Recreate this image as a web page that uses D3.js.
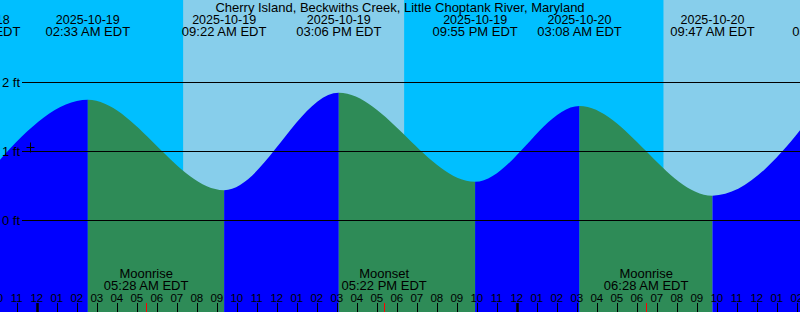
<!DOCTYPE html>
<html>
<head>
<meta charset="utf-8">
<script src="https://cdn.jsdelivr.net/npm/d3@7"></script>
<style>
  body { margin: 0; }
  svg { display: block; font-family: "Liberation Sans", Arial, sans-serif; }
</style>
</head>
<body>
<svg id="chart" width="800" height="312"></svg>
<script>
const title = "Cherry Island, Beckwiths Creek, Little Choptank River, Maryland";

// high / low tides (EDT wall time)
const tideTimes = ["2025-10-18T21:03", "2025-10-19T02:33", "2025-10-19T09:22", "2025-10-19T15:06",
                   "2025-10-19T21:55", "2025-10-20T03:08", "2025-10-20T09:47", "2025-10-20T15:54"];
const tideHeights = [0.51, 1.75, 0.44, 1.85, 0.56, 1.66, 0.36, 1.98];

// sun up intervals
const sunrises = ["2025-10-19T07:19", "2025-10-20T07:20"];
const sunsets = ["2025-10-19T18:22", "2025-10-20T18:21"];

// moon events
const moonTimes = ["2025-10-19T05:28", "2025-10-19T17:22", "2025-10-20T06:28"];
const moonEvents = ["Moonrise", "Moonset", "Moonrise"];

const heightTicks = [0, 1, 2];

// current time marker
const nowTime = "2025-10-18T23:40";
const nowHeight = 1.07;

const W = 800, H = 312;
const parse = d3.utcParse("%Y-%m-%dT%H:%M");
const fmtDate = d3.utcFormat("%Y-%m-%d");
const fmtTime = d3.utcFormat("%I:%M %p EDT");
const fmtHour = d3.utcFormat("%I");

const x = d3.scaleUtc()
    .domain([d3.utcParse("%Y-%m-%dT%H:%M:%S")("2025-10-18T22:09:36"),
             d3.utcParse("%Y-%m-%dT%H:%M:%S")("2025-10-20T14:09:36")])
    .range([0, W]);
const y = d3.scaleLinear().domain([0, 2]).range([220.5, 82.5]);

const svg = d3.select("#chart");

// night background
svg.append("rect").attr("width", W).attr("height", H).attr("fill", "#00bfff");

// daylight
svg.selectAll(".day")
    .data(sunrises.map((s, i) => [parse(s), parse(sunsets[i])]))
    .join("rect")
    .attr("class", "day")
    .attr("x", d => x(d[0]))
    .attr("width", d => x(d[1]) - x(d[0]))
    .attr("y", 0).attr("height", H)
    .attr("fill", "#87ceeb");

// tide curve
const tides = tideTimes.map((t, i) => ({ t: parse(t), h: tideHeights[i] }));
const area = d3.area()
    .x(d => x(d.t))
    .y0(H)
    .y1(d => y(d.h))
    .curve(d3.curveMonotoneX);

svg.append("clipPath").attr("id", "tideClip")
    .append("path").attr("d", area(tides));

// blue while rising, green while falling
svg.append("g").attr("clip-path", "url(#tideClip)")
    .selectAll("rect")
    .data(d3.pairs(tides))
    .join("rect")
    .attr("x", d => x(d[0].t))
    .attr("width", d => x(d[1].t) - x(d[0].t))
    .attr("y", 0).attr("height", H)
    .attr("fill", d => d[1].h > d[0].h ? "#0000ff" : "#2e8b57");

// height gridlines
svg.selectAll(".grid")
    .data(heightTicks)
    .join("line")
    .attr("x1", 22).attr("x2", W)
    .attr("y1", d => y(d)).attr("y2", d => y(d))
    .attr("stroke", "#000").attr("stroke-width", 1);

svg.selectAll(".ylab")
    .data(heightTicks)
    .join("text")
    .attr("x", 20).attr("y", d => y(d) + 4.5)
    .attr("text-anchor", "end")
    .attr("font-size", 13)
    .text(d => d + " ft");

// title
svg.append("text")
    .attr("x", W / 2).attr("y", 12)
    .attr("text-anchor", "middle")
    .attr("font-size", 13)
    .text(title);

// tide labels
const tl = svg.selectAll(".tlab")
    .data(tides)
    .join("g")
    .attr("transform", d => `translate(${x(d.t)},0)`);
tl.append("text").attr("y", 24).attr("text-anchor", "middle").attr("font-size", 12.5)
    .text(d => fmtDate(d.t));
tl.append("text").attr("y", 36).attr("text-anchor", "middle").attr("font-size", 13)
    .text(d => fmtTime(d.t));

// moon labels
const moons = moonTimes.map((t, i) => ({ t: parse(t), ev: moonEvents[i] }));
const ml = svg.selectAll(".mlab")
    .data(moons)
    .join("g")
    .attr("transform", d => `translate(${x(d.t)},0)`);
ml.append("text").attr("y", 277.5).attr("text-anchor", "middle").attr("font-size", 13)
    .text(d => d.ev);
ml.append("text").attr("y", 290).attr("text-anchor", "middle").attr("font-size", 13)
    .text(d => fmtTime(d.t));

// hour axis
const hours = d3.utcHour.range(d3.utcHour.floor(x.domain()[0]), d3.utcHour.offset(x.domain()[1], 1));
svg.selectAll(".hlab")
    .data(hours)
    .join("text")
    .attr("x", d => x(d))
    .attr("y", 301.5)
    .attr("text-anchor", "middle")
    .attr("font-size", 11.5)
    .text(d => fmtHour(d));

svg.selectAll(".htick")
    .data(hours)
    .join("line")
    .attr("x1", d => Math.round(x(d)) + 0.5)
    .attr("x2", d => Math.round(x(d)) + 0.5)
    .attr("y1", 303).attr("y2", H)
    .attr("stroke", "#000")
    .attr("stroke-width", d => d.getUTCHours() === 0 ? 2.5 : 1);

svg.selectAll(".mtick")
    .data(moons)
    .join("line")
    .attr("x1", d => Math.round(x(d.t)) + 0.5)
    .attr("x2", d => Math.round(x(d.t)) + 0.5)
    .attr("y1", 303).attr("y2", H)
    .attr("stroke", "#ff0000");

// current time marker
const nx = Math.round(x(parse(nowTime))) + 0.5, ny = Math.round(y(nowHeight)) + 0.5;
svg.append("path")
    .attr("d", `M${nx - 4},${ny}H${nx + 4}M${nx},${ny - 5}V${ny + 5}`)
    .attr("stroke", "#000").attr("fill", "none");
</script>
</body>
</html>
